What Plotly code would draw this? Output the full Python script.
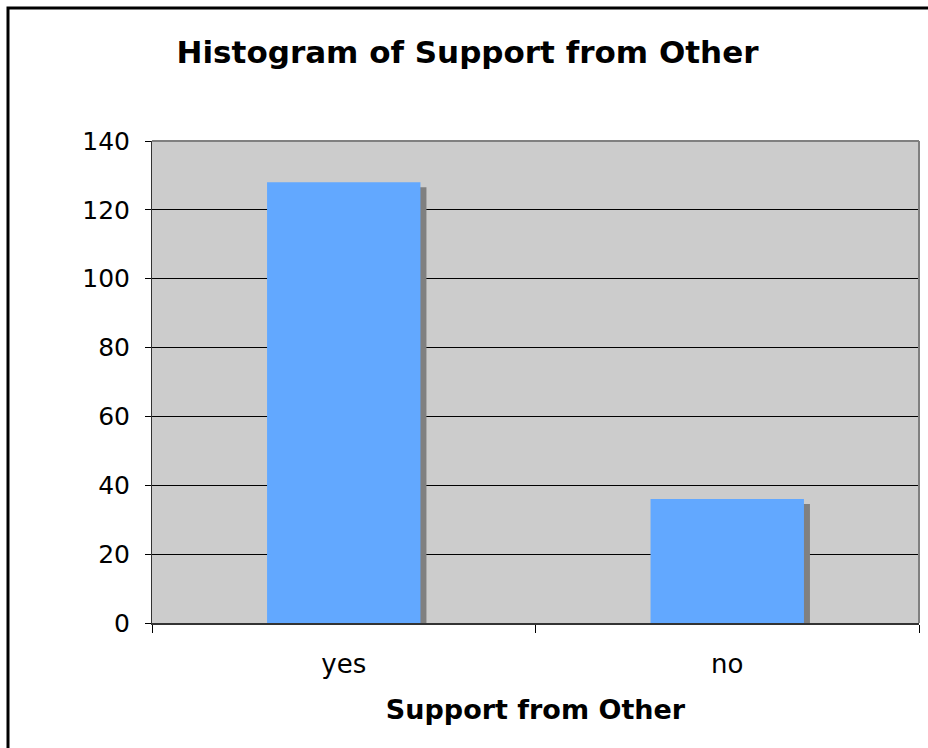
import plotly.graph_objects as go

categories = ["yes", "no"]
counts = [128, 36]
y_ticks = [0, 20, 40, 60, 80, 100, 120, 140]

W, H = 928, 748
L, R, T, B = 152, 9, 141, 125
pw = W - L - R
ph = H - T - B
ymax = 140
bar_w = 0.40
shadow_dx_px, shadow_dy_px = 6, 5
cat_px = pw / len(categories)
dx = shadow_dx_px / cat_px
dy = shadow_dy_px * ymax / ph

font = "DejaVu Sans, Verdana, sans-serif"

fig = go.Figure()
fig.add_trace(go.Bar(
    x=categories, y=[c - dy for c in counts],
    width=bar_w, offset=-bar_w / 2 + dx,
    marker=dict(color="#808080", line=dict(width=0)),
    hoverinfo="skip", showlegend=False))
fig.add_trace(go.Bar(
    x=categories, y=counts,
    width=bar_w, offset=-bar_w / 2,
    marker=dict(color="#62A8FF", line=dict(width=0)),
    showlegend=False))

fig.update_layout(
    width=W, height=H, barmode="overlay",
    margin=dict(l=L, r=R, t=T, b=B, pad=0),
    paper_bgcolor="white", plot_bgcolor="#CCCCCC",
    font=dict(family=font, color="black", size=26),
    title=dict(text="<b>Histogram of Support from Other</b>",
               x=(178 + 757) / 2 / W, xanchor="center",
               y=1 - 52 / H, yanchor="middle",
               font=dict(size=31, family=font, color="black")),
    xaxis=dict(type="category", tickson="boundaries", ticks="outside",
               ticklen=8, tickcolor="black", tickwidth=1,
               showgrid=False, showline=True, linecolor="#333333", linewidth=2,
               tickfont=dict(size=26), range=[-0.5, 1.5],
               ticklabelstandoff=17,
               title=dict(text="<b>Support from Other</b>",
                          font=dict(size=27), standoff=22)),
    yaxis=dict(range=[0, ymax], tickvals=y_ticks, ticks="outside",
               ticklen=6, tickcolor="black", tickwidth=1,
               showgrid=True, gridcolor="black", gridwidth=1,
               showline=True, linecolor="#333333", linewidth=1,
               zeroline=False, tickfont=dict(size=25),
               ticklabelstandoff=10),
)

# gray plot-area border on top and right
fig.add_shape(type="line", xref="paper", yref="paper", x0=0, x1=1, y0=1, y1=1,
              line=dict(color="#808080", width=2), layer="above")
fig.add_shape(type="line", xref="paper", yref="paper", x0=1, x1=1, y0=0, y1=1,
              line=dict(color="#808080", width=2), layer="above")

# outer chart frame (extends past right/bottom edges)
fx0 = (8 - L) / pw
fy1 = 1 + (T - 8) / ph
fig.add_shape(type="rect", xref="paper", yref="paper",
              x0=fx0, x1=1 + (R + 20) / pw, y0=-(B + 20) / ph, y1=fy1,
              line=dict(color="black", width=3), fillcolor="rgba(0,0,0,0)",
              layer="above")

fig.write_html("out.html")
